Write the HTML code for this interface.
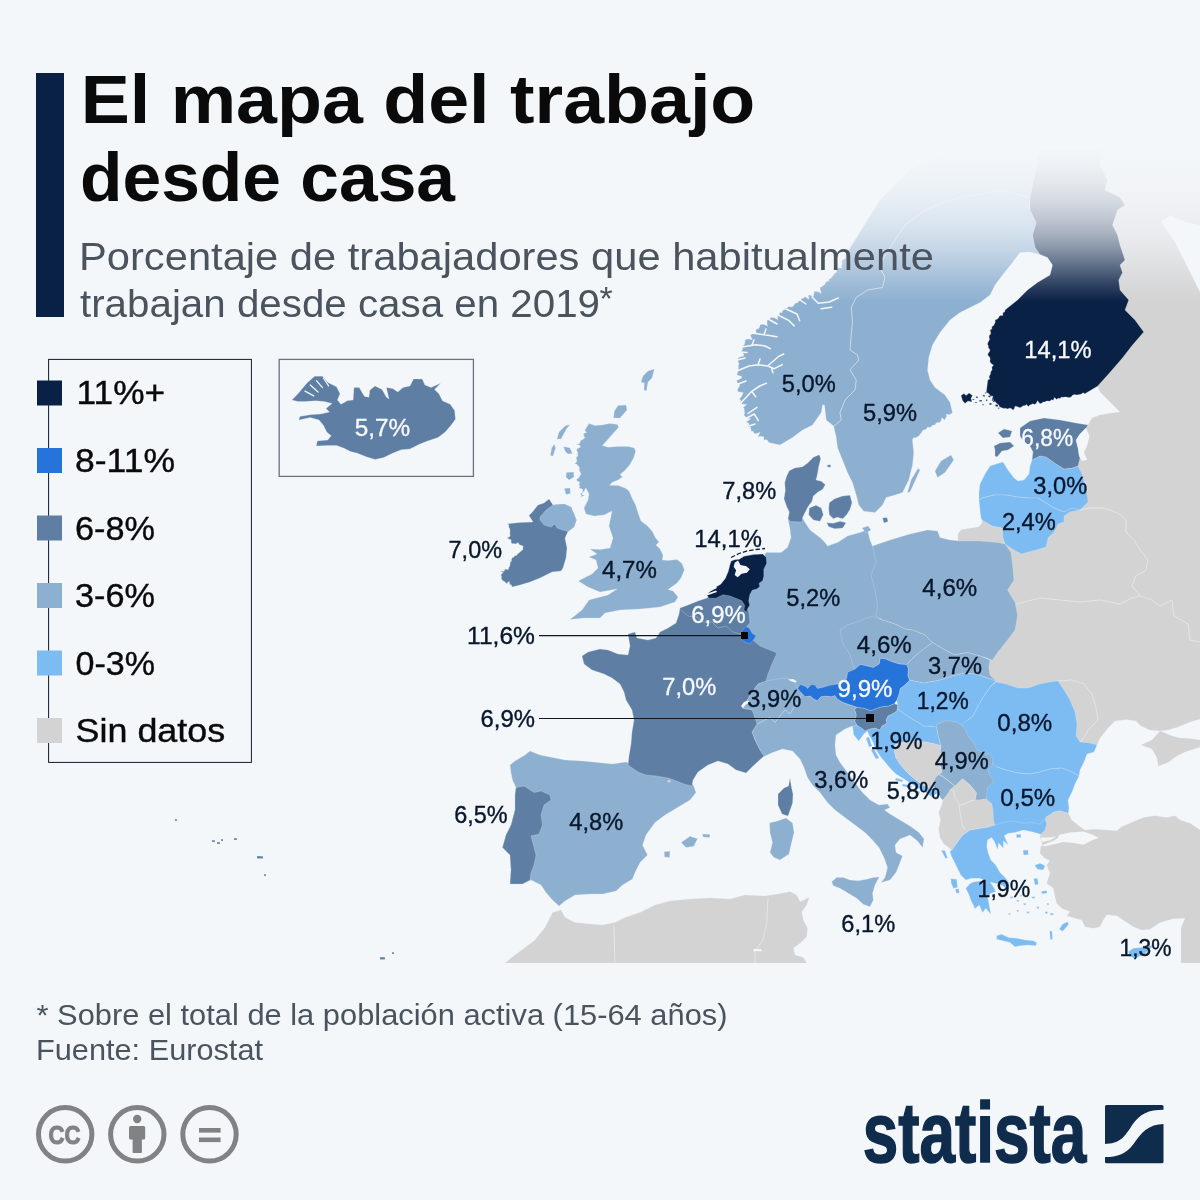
<!DOCTYPE html>
<html lang="es"><head><meta charset="utf-8"><title>El mapa del trabajo desde casa</title>
<style>
html,body{margin:0;padding:0;background:#f4f7fa}
svg{display:block}
text{font-family:"Liberation Sans",sans-serif}
.k{stroke:#dbe6f1;stroke-width:.6;stroke-linejoin:round;stroke-opacity:.45}
.bl{fill:none;stroke:#e9eff6;stroke-width:.8;stroke-opacity:.8}
.lab{font-size:23px;fill:#08172c;stroke:#08172c;stroke-width:.35}
.labw{font-size:23px;fill:#f7f9fc;stroke:#f7f9fc;stroke-width:.3}
.leg{font-size:33px;fill:#0a0a0a;stroke:#0a0a0a;stroke-width:.4}
</style></head><body>
<svg width="1200" height="1200" viewBox="0 0 1200 1200">
<defs>
<clipPath id="mc"><rect x="0" y="130" width="1200" height="833"/></clipPath>
<linearGradient id="fade" x1="0" y1="145" x2="0" y2="302" gradientUnits="userSpaceOnUse">
<stop offset="0.000" stop-color="#f4f7fa" stop-opacity="1"/>
<stop offset="0.140" stop-color="#f4f7fa" stop-opacity="0.97"/>
<stop offset="0.242" stop-color="#f4f7fa" stop-opacity="0.93"/>
<stop offset="0.350" stop-color="#f4f7fa" stop-opacity="0.87"/>
<stop offset="0.452" stop-color="#f4f7fa" stop-opacity="0.79"/>
<stop offset="0.561" stop-color="#f4f7fa" stop-opacity="0.68"/>
<stop offset="0.669" stop-color="#f4f7fa" stop-opacity="0.53"/>
<stop offset="0.777" stop-color="#f4f7fa" stop-opacity="0.35"/>
<stop offset="0.892" stop-color="#f4f7fa" stop-opacity="0.15"/>
<stop offset="1.000" stop-color="#f4f7fa" stop-opacity="0"/>
</linearGradient>
</defs>
<rect width="1200" height="1200" fill="#f4f7fa"/>
<g clip-path="url(#mc)">
<path class="k" fill="#d3d3d4" d="M1100,150L1200,150L1200,719L1190,722L1178,727L1168,730L1160,731L1150,730L1141,726L1136,721L1126,719.6L1115,721L1108,728L1100,738L1097,745L1075,746L1064,720L1055,695L1040,690L1000,690L985,670L995,645L1005,600L1000,560L1006,544L1030,545L1058,515L1078,500L1075,470L1070,445L1075,426L1088,425L1092,418L1100,415L1112,413L1120,412L1116,408L1108,400L1100,392L1097.5,386L1095,380L1110,350L1120,320L1110,290L1110,250L1100,200Z"/>
<path class="k" fill="#d3d3d4" d="M1160,731L1152,740L1141,745L1152,749L1157,758L1158.4,766L1168,762.4L1176,756.4L1185,752L1194,749L1200,747L1200,740L1190,738.4L1180,738L1172,736L1164,732.4Z"/>
<path class="k" fill="#d3d3d4" d="M961,529.75L970,528.25L979,526.75L982,523L982,520L992,526L1002,528L1003,538L1005,544L990,545L976,545L958,545L958,534Z"/>
<path class="k" fill="#d3d3d4" d="M1068.3,813.3L1071.7,820L1080,826.7L1085,830L1093.3,829.2L1106.7,830L1116.7,830.8L1121.7,826.7L1133.3,821.7L1143.3,817.5L1155,815.8L1166.7,817.5L1175,815.8L1180,820L1190,823.3L1200,830L1200,963L1181,963L1181,953L1181,943L1181,928L1185,918.3L1173.3,918.7L1160,922.5L1150,929.2L1141.7,930L1133.3,926.7L1123.3,920L1116.7,915.8L1106.7,914.7L1103.3,920L1100,926.7L1093.3,928.3L1085,926.7L1081.7,920L1075,918.3L1066.7,915.8L1070,911.7L1061.7,908.3L1056.7,903.3L1055,896.7L1053.3,888.3L1046.7,883.3L1048.3,878.3L1050,873.3L1046.7,865L1050,860.8L1045,858.3L1040,853.3L1040.8,846.7L1042.5,845L1040,836.7L1041.7,830L1044.2,825L1045,818.3L1050,813.3L1060,810.8Z"/>
<path class="k" fill="#d3d3d4" d="M505,963L515,955L535,940L545,927.5L552.5,912.5L561,910L565,917.5L575,922.5L590,924L602.5,925L615,922.5L625,917.5L640,912.5L655,905L670,901L690,899L710,898L730,899L745,895L765,896L777.5,894L790,891.7L796.7,895L800,901.7L809,897.5L806.7,905L801.7,911.7L803.3,920L807.5,928.3L806.7,936.7L800,943.3L793.3,948.3L795,955L803.3,957.5L806.7,963Z"/>
<path class="k" fill="#7dbcf2" d="M852.5,726L857.6,725.8L861.7,728.2L865,731L870,729L875,728L880,730L882,726L887,723L886,720L888,716L892,714L897,711L897.8,704.8L898,709L906,715L914,720L924,726L934,726.4L936.25,725L938,735L941,746L935,744L925,742L915,741L905,742L894.5,745L894,750L896,758L900,764L905,770L910,775L916,780L923,785L930,789L933.75,788L937.5,793L932,797L925,792L918,788L910,783L904,779L896,774L890,768L885,762L880,756L875,748L873,742L869,735L867.5,731L863.75,734L858.75,741L853.75,735Z"/>
<path class="k" fill="#7dbcf2" d="M904.8,685L909.5,680.3L910,680L924,683L940,680L952,676L964,673L976,674L988,678L996,681L991,686L984,696L978,706L973,716L968,720L962,726L952,728L940,728L934,726.4L924,726L914,720L906,715L898,709L897.8,704.8L896.7,700.2L899,694.3L900.2,688.5Z"/>
<path class="k" fill="#7dbcf2" d="M996,682L1006,684L1018,688L1028,688L1040,684L1050,682L1058,681L1064,690L1070,700L1075,712L1077,724L1076,736L1080,742L1090,743L1097,745L1094,752L1087,754L1084,762L1080,770L1079,776L1072,772L1062,768L1050,769L1040,772L1030,774L1018,773L1006,770L997,767L988,762L978,752L970,742L964,732L961,725L968,720L973,716L978,706L984,696L991,686Z"/>
<path class="k" fill="#7dbcf2" d="M997,767L1006,770L1018,773L1030,774L1040,772L1050,769L1062,768L1072,772L1079,776L1075,784L1072,792L1068,800L1069,808L1068.3,813.3L1060,810.8L1054,812L1046,817L1044,826L1040,828L1030,829L1018,828L1006,829L990,829L988,812L984,800L984,765L990,760Z"/>
<path class="k" fill="#7dbcf2" d="M950,851.7L956.7,843.3L962.5,835L970,830L980,828.3L988.3,827L995,825L1003.3,822.5L1013.3,820.8L1023.3,823.3L1031.7,822.5L1040,824.2L1043.3,820L1045.3,819.7L1046.7,823.7L1045,830L1040.8,834.2L1031.7,831.7L1023.3,830L1015,832.5L1008.3,833.3L1004.2,835.8L1008.3,845L1003.3,840.8L1003.3,848.3L998.7,843L997.5,849.2L994.7,842L991.7,837.5L987.5,840L986.7,846.7L988.3,853.3L990.8,860L995,864.2L996.7,866.7L1000,872.5L1005.8,878.3L1009.2,883.3L1008.7,889.2L1003.3,886.3L1000,884.2L995,883.3L990,882L993.3,886.7L995.8,891.7L990.8,893.3L987.5,896.7L989.2,905L990.8,914.2L985.8,908.3L982.5,912.5L979.2,905L975,908.7L970.8,900L968.3,893.3L965.8,888.3L970,883.7L973.3,882L980,881L985.8,881L980,878.3L971.7,878.3L965.8,880L960.8,875L958.3,870L955,863.3L951.7,856.7Z"/>
<path class="k" fill="#7dbcf2" d="M996.7,935.8L1001.7,934.2L1008.3,937.5L1016.7,938.3L1025,940L1033.3,940.8L1036.7,942.5L1035.8,945.8L1028.3,945L1020,945.8L1015,946.7L1010,942.5L1003.3,940.8L996.7,939.2Z"/>
<path class="k" fill="#7dbcf2" d="M1067.5,921.7L1068.7,924.2L1062.8,931.2L1059.2,929.2L1062.5,924.2Z"/>
<path class="k" fill="#7dbcf2" d="M1034.7,865.3L1040,863.3L1045,865.8L1043.3,870L1037.5,869.2Z"/>
<path class="k" fill="#7dbcf2" d="M1033.7,878.7L1037.5,878.3L1038.3,884.2L1035,885Z"/>
<path class="k" fill="#7dbcf2" d="M1041.3,891.3L1046.7,890.8L1047,893.3L1042,893.7Z"/>
<path class="k" fill="#7dbcf2" d="M941.3,850L945,850.8L947.5,858L945.3,858.3L943.3,854.2Z"/>
<path class="k" fill="#7dbcf2" d="M950.8,878.7L956.7,879.2L957.5,887.5L953.3,888.3L951.3,883.3Z"/>
<path class="k" fill="#7dbcf2" d="M955.3,889.2L958.7,888.7L959.3,893.3L956.3,893Z"/>
<path class="k" fill="#7dbcf2" d="M1023,850.3L1028,850L1028.3,854.7L1023.7,855Z"/>
<path class="k" fill="#7dbcf2" d="M1016.3,834.5L1020.8,834.2L1020.8,837.5L1016.7,837.8Z"/>
<path class="k" fill="#7dbcf2" d="M1049.7,930.8L1052,931.3L1052.5,939.7L1050.3,939.2Z"/>
<path class="k" fill="#7dbcf2" d="M1010,896.7L1013,896.8L1012.7,898.3L1010.3,898.2Z"/>
<path class="k" fill="#7dbcf2" d="M1016.7,900L1019,900.2L1018.7,901.7L1017,901.5Z"/>
<path class="k" fill="#7dbcf2" d="M1023.3,903.3L1026,903.5L1025.7,905L1023.7,904.8Z"/>
<path class="k" fill="#7dbcf2" d="M1031.7,896.7L1035,896.8L1034.7,898.3L1032,898.2Z"/>
<path class="k" fill="#7dbcf2" d="M1036.7,906.7L1039,906.8L1038.7,908.7L1037,908.5Z"/>
<path class="k" fill="#7dbcf2" d="M1026.7,911.7L1029.3,911.8L1029,913.3L1027,913.2Z"/>
<path class="k" fill="#7dbcf2" d="M1016.7,910L1018.7,910.2L1018.3,911.7L1017,911.5Z"/>
<path class="k" fill="#7dbcf2" d="M1045,911.7L1047.7,911.8L1047.3,913.7L1045.3,913.5Z"/>
<path class="k" fill="#7dbcf2" d="M1050,913.3L1053.7,913.5L1053.3,915L1050.3,914.8Z"/>
<path class="k" fill="#7dbcf2" d="M1008.3,913.3L1010.7,913.5L1010.3,914.7L1008.7,914.5Z"/>
<path class="k" fill="#7dbcf2" d="M1046.7,903.3L1049,903.5L1048.7,905L1047,904.8Z"/>
<path class="k" fill="#7dbcf2" d="M1020,895L1022,895.2L1021.7,896.3L1020.3,896.2Z"/>
<path class="k" fill="#7dbcf2" d="M1128.3,951.7L1133.3,948.3L1141.7,947.5L1146.7,946.7L1155,944.2L1148.3,950L1145,954.2L1138.3,956.7L1135,959.2L1130,955.8Z"/>
<path class="k" fill="#7dbcf2" d="M979,492L980,484L985,474L990,466L996,464L1003,462L1008,470L1014,478L1018,481L1024,480L1029,474L1030,466L1032,460L1040,456L1046,457L1056,464L1064,469L1072,468L1078,466L1082,474L1085,484L1087,494L1088,502L1080,510L1072,508L1064,512L1054,508L1046,503L1038,498L1028,498L1018,497L1006,495L994,495L982,498L979,500Z"/>
<path class="k" fill="#7dbcf2" d="M979,500L980,510L981,518L982,520L992,526L1002,528L1003,538L1005,544L1014,550L1022,554L1028,552L1036,550L1046,547L1048,538L1054,532L1058,524L1064,522L1064,516L1070,512L1080,510L1072,508L1064,512L1054,508L1046,503L1038,498L1028,498L1018,497L1006,495L994,495L982,498Z"/>
<path class="k" fill="#7dbcf2" d="M866,738L869,737L872,746L869,747Z"/>
<path class="k" fill="#7dbcf2" d="M871,750L874,749L879,758L876,759Z"/>
<path class="k" fill="#7dbcf2" d="M896,778L903,780L902,782L895,780Z"/>
<path class="k" fill="#7dbcf2" d="M903,784L912,786L911,788L902,786Z"/>
<path class="k" fill="#7dbcf2" d="M912,789L920,792L919,794L911,791Z"/>
<path class="k" fill="#8eb0d0" d="M589,423.6L595,425.6L602,425L610,423.6L617.6,424.4L618.4,427.6L614.4,432L610,437L605.6,442L602.4,445.6L608,447.2L618,446.4L628,446.4L634.4,448L635.6,451.6L633.6,458L629.6,465L624.4,471L620,474.4L622.4,477L618,480L612,482.4L609.6,485.2L618,485.6L625,488L629,491L632,498L635.6,505L638.4,514L641,521L647.6,526L652.4,531.6L655.6,538L659,542L656,545L660,549L663,555L662.4,560L668,560.6L677,559.6L682,563.6L684.4,570L681,578L677,583L668,589.6L673,591L678,597L675,602L660,607L640,609L620,610L605,613L600,618L584,618L570,619.4L582,610L589,600L608,595L617,589L600,592L588,587L578.4,581L584,578L592,574L598,568L596,560L589,557L597,554L590,549L600,549.6L610,548L613,538L609,526L612,511L604,515L594,516L586,514L584,508L588,500L589,494L586,488L584.8,489.5L584.2,491.3L582.7,492.6L580.4,493.5L581.7,496.3L579.8,497.4L584.6,495.5L581.7,494.4L582.3,492.5L582.8,490.7L582.5,489L579.1,488L579.8,485.9L579,484.3L579.9,482.2L577.6,481.2L576.4,479.9L577.4,478.7L579.1,477.6L579.6,475.8L581.1,474.5L580.2,472.1L579.2,470.5L579.5,468.2L579,466.5L577.5,465.6L576.7,464.1L574.4,463.7L575.8,462.7L576.9,461.2L576.6,459.3L576.1,457.4L578,456.1L577.6,454.2L577.8,452.2L576.7,450.7L576.9,449L580.7,446.9L579.6,445.3L576.1,444L578.1,444L579.7,443.5L580.2,441.5L581.2,440.2L583.7,439L584.9,437.5L583.6,435.3L583.6,433.5L586.7,432.6L584.7,430.2Z"/>
<path class="k" fill="#8eb0d0" d="M570,424.4L566.4,429L561,439L557,439L559,432L565,426Z"/>
<path class="k" fill="#8eb0d0" d="M554.4,444L555.6,448L553,456L550.4,455.6L551.6,448Z"/>
<path class="k" fill="#8eb0d0" d="M563.6,446.4L570,448L572.4,453.6L568,454L565,451Z"/>
<path class="k" fill="#8eb0d0" d="M566.4,472.4L573.6,472L574,477L569,480L566,477Z"/>
<path class="k" fill="#8eb0d0" d="M564.4,488.4L570,488L570.4,493.6L566,494.4Z"/>
<path class="k" fill="#8eb0d0" d="M618,405.6L626,405L627,410L620,418L613.6,418L614.4,411Z"/>
<path class="k" fill="#8eb0d0" d="M648,371L654.4,369L652,378L648,382L646.4,391L644,390L644.4,383L641,382L643,376Z"/>
<path class="k" fill="#8eb0d0" d="M766,552.5L781,552.5L787.5,547.5L791,537.5L790,529L788,519L803,519L806,524L810,530L820,537.5L825,542.5L827.5,546L837.5,542.5L847.5,536L860,532.5L867.5,530L870,540L872.5,546L880,560L882,600L880,618L870,630L850,640L860,668L850,690L800,692L790,690L765,685L760,670L770,655L755,645L745,630L744,613L745,604L747,596L752,588L757,584L760,575L761,562Z"/>
<path class="k" fill="#8eb0d0" d="M862,528L868,526L871,530L866,533Z"/>
<path class="k" fill="#8eb0d0" d="M766,681L777,679L787,678L795,681L797.5,688.5L802.2,693.75L799,700L794,707.5L790,714L785,710L780,716L775,722.5L770,717.5L765,720L760,722.5L756,725L752,716L752,710L742,708L746,702L752,692L758,684Z"/>
<path class="k" fill="#8eb0d0" d="M764,756.5L772.5,752.5L782.5,749L792.5,751L800,759L804,767.5L807.5,777.5L812.5,785L820,792.5L827.5,802.5L835,810L845,817.5L855,825L865,832.5L872.5,840L879,847.5L884,857.5L887.5,867.5L885,877.5L881,882.5L890,880L896,872.5L900,862.5L902.5,856L896,852.5L895,845L900,839L910,835L917.5,841L922.5,847.5L924,839L919,832.5L910,826L900,820L890,814L884.5,810L890,807.5L887.5,804L879,805L870,800L862.5,792.5L855,782.5L847.5,772.5L840,762.5L836,755L835,745L836,735L845,729L852.5,726L857.6,725.8L854.7,721.2L856.4,715.3L854.7,709.5L857,707.2L850,704.8L843,702.5L837.2,699L834.8,695.5L831.3,696.7L826.7,696.1L820.8,696.7L817.3,700.8L813.8,699L810.3,696.1L805.1,696.7L802.2,693.75L799,700L794,707.5L790,714L785,710L780,716L775,722.5L770,717.5L765,720L760,722.5L756,725L752,732L755,740L760,750Z"/>
<path class="k" fill="#8eb0d0" d="M831.7,881.7L836.7,877.5L843.3,877.5L850,880L858.3,880.8L866.7,879.2L873.3,877.5L879.2,877L875,885L872.5,893.3L873.3,900L870,906.7L863.3,904.2L856.7,898.3L848.3,893.3L840,888.3L833.3,885.8Z"/>
<path class="k" fill="#8eb0d0" d="M786,818L792.5,823L794,832.5L791,845L789,854L780,860L774,857.5L770,852.5L772.5,842.5L770,832.5L769.5,823L777.5,821Z"/>
<path class="k" fill="#8eb0d0" d="M510,765L515,761L525,755L530,751L540,755L552.5,757.5L565,760L582.5,761L597.5,762.5L612.5,764L626,762L634,766L646,771L658,773L670,775.5L680,779L690,782L693.5,785.5L696,792.5L690,800L680,806L665,815L655,822.5L646,835L642.5,845L647.5,855L640,862.5L635,872.5L632.5,879L622.5,885L616,891L602.5,894L590,894L575,895L565,901L559,906L552.5,900L546,892.5L541,885L531,880L522.5,884L510,884L511,870L510,855L502.5,847.5L506,835L511,825L515,810L515,795L516,787.5L512.5,780L511,772.5Z"/>
<path class="k" fill="#8eb0d0" d="M681.2,842.5L690,836.2L697.5,838.8L693.8,846.2L686.2,847.5Z"/>
<path class="k" fill="#8eb0d0" d="M702.5,834L710,834.5L709.5,837.5L703,837Z"/>
<path class="k" fill="#8eb0d0" d="M664.2,851.8L670,851.2L669.5,857.5L664.5,857Z"/>
<path class="k" fill="#8eb0d0" d="M768.75,442.5L767.7,440.5L766.2,439.6L764,440.2L763.7,436.5L761.8,436.6L760,436.2L757.7,437L760.2,432.3L756.4,433.6L753.9,433.6L753.6,431.4L751.3,431.2L750.9,429.1L750.4,427.1L748,427L749,425.1L748.8,423.2L746.1,422.1L751,418.7L746.4,418.1L745.5,416.4L744,414.9L744.7,412.8L744.4,410.9L744.3,409L743.3,407.4L746.7,404.4L742,403.9L740.2,402.5L741.1,400.4L739.4,398.9L741.5,396.6L742.5,394.6L743.3,392.5L738,391.8L737.5,390L738.2,388.1L739.7,386L739.6,384.2L737.1,382.5L736.8,380.6L741.2,378.4L741.9,376.4L737,374.9L737.4,373.2L737.9,371.4L738.3,369.5L738.5,367.6L738.3,365.7L739.1,363.9L738.1,361.9L737.9,360L738.1,358.2L740,356.9L743.7,356L743.7,354.1L741.1,351.3L742.6,349.8L742.7,347.9L742.8,345.9L744.5,344.4L744.9,342.3L745.3,340.1L746.8,339.3L748.9,338.9L752.4,339.9L750.4,335.4L751.7,334.2L753.6,333.6L756.4,333.9L755.8,330.8L756.6,329.1L758.7,328.7L759.6,327.1L760.1,325.1L761.7,324.3L764.2,324.6L767.5,326.1L767,322.4L767.3,319.9L769.8,320.2L770.2,317.7L772.1,317.5L774.4,317.7L777.7,319.7L777.6,316L779.1,314.9L779.7,312.4L782.1,312.8L782.7,310.3L784.5,309.8L785.7,308.3L787.6,307.8L788.8,306.4L791.2,306.9L793.1,306.4L794.2,304.7L795.5,303.3L797.6,302.8L798.7,301.2L800.6,300.5L801.6,298.7L803.5,298L804.9,296.7L809,299.2L808.5,295.2L810,294.9L813.1,297.1L813.8,294.5L814.2,291.6L816.2,291.6L818.2,291.8L821.1,293.6L820,287.6L821.8,286.8L823.1,285.6L824.8,284.8L825.4,282.9L826.5,281.5L828.8,281.3L828.9,278.9L831,278.5L831.9,276.7L833.4,275.6L834,273.8L835.7,272.9L836.8,271.4L836.9,269.3L837.9,267.8L841.9,268L841.5,265.6L842.3,264L841.8,261.6L842.5,259.9L844.6,259L845.8,257.6L845.5,255.3L855,240L880,200L910,170L950,150L1040,150L1030,197.5L1030,210L1036.25,222.5L1032.5,235L1035,247.5L1040,254.5L1030,252L1020,252.5L1012.5,262.5L1002.5,275L995,285L990,295L980,302.5L970,307.5L960,312.5L950,320L940,332.5L932.5,345L928.75,357.5L927.5,370L930,380L935,387.5L945,395L950,402.5L952.5,412.5L951.1,413.6L949.8,414.8L946.4,413.9L946.6,416.6L945.6,418.1L944.9,419.9L941.8,417.8L941.1,420.5L939.9,422.2L937.9,422.4L936.1,422.9L935,425L932.9,424.9L931.5,426.4L929.9,427.4L927.7,427.1L926.5,428.7L924.9,429.8L922.8,430.3L922,432L920.8,433.3L919.7,434.7L918.7,436.2L917,437L915.5,437.7L913.5,437.7L912.4,439.8L913.75,452.5L912.5,465L908.75,480L902.5,492.5L895,495L886.25,497.5L882.5,505L875,512.5L863.75,511.25L858.75,505L856.25,495L852.5,482.5L847.5,472.5L842.5,460L837.5,447.5L836.25,437.5L833.75,426.25L832.5,425L826.25,420L824.5,405L822.5,405L821.25,412.5L812.5,425L802.5,430L792.5,437.5L780,445Z"/>
<path class="k" fill="#8eb0d0" d="M918,468.5L920,470L910,492L907.5,492.5L911,480Z"/>
<path class="k" fill="#8eb0d0" d="M951,455L953.75,460L945,472.5L937.5,477.5L935,471L941,461Z"/>
<path class="k" fill="#8eb0d0" d="M872.5,546L890,540L910,534L927.5,530L937.5,531L940,537.5L950,540L960,541L980,541L997.5,542.5L1005,544L1011,552.5L1012.5,565L1014,580L1007.5,590L1015,602.5L1017.5,615L1015,630L1007.5,640L997.5,652.5L992.5,660L980,656L967.5,652.5L955,655L945,650L932.5,642.5L925,635L912.5,630L905,629L895,624L882.5,620L876,616L877.5,605L875,590L871,575L876,562.5L874,552.5Z"/>
<path class="k" fill="#8eb0d0" d="M840,630L847.5,625L860,621L872.5,616L882.5,620L895,624L905,629L912.5,630L925,635L932.5,642.5L922.5,650L915,656L906.6,664.6L899,664L892,661.7L885,658.8L880.3,658.2L879.2,664L873.3,667.5L866.3,665.8L860.5,664.6L854.7,669.3L850,655L842.5,642.5Z"/>
<path class="k" fill="#8eb0d0" d="M909.5,680.3L907.8,675.7L908.3,668.7L906.6,664.6L915,656L922.5,650L932.5,642.5L945,650L955,655L967.5,652.5L980,656L990,660L988.75,667.5L990,675L996,681L988,678L976,674L964,673L952,676L940,680L924,683L910,680Z"/>
<path class="k" fill="#8eb0d0" d="M936.25,725L941.25,722.5L946.25,720.6L956.25,722L961.25,725L965,729.4L968.5,736.9L973.75,742.5L976.5,749.4L982.5,752.5L990,754.4L993,758.75L992.5,765L988,770L989.4,775L993.75,780L991.9,783.75L987.5,787.5L986.9,793.75L986.25,799L980,800L975,800L976.5,793L970.6,785.6L962.5,778.75L958.75,782.5L955,786.25L950.6,789.4L948,793.75L945.6,796.9L943,800L941.25,798.75L937.5,793L933.75,788L932.75,783.5L935.6,776.9L938.75,774.4L942,772L940,765L943,758L940,752L941,746L938,735Z"/>
<path class="k" fill="#d3d3d4" d="M894.5,745L905,742L915,741L925,742L935,744L941,746L940,752L943,758L940,765L942,772L938.75,774.4L935.6,776.9L932.75,783.5L933.75,788L930,789L923,785L916,780L910,775L905,770L900,764L896,758L894,750Z"/>
<path class="k" fill="#d3d3d4" d="M943,800L945.6,796.9L948,793.75L950.6,789.4L955,786.25L958.75,782.5L962.5,778.75L970.6,785.6L976.5,793L975,800L980,800L986.25,799L991.9,803.75L993,810L993.5,820L995,825L988.3,827L980,828.3L970,830L962.5,835L956.7,843.3L952,850.5L950,848.75L943.75,843.75L940,837.5L938.75,828.75L940.6,820L938.75,812.5L941.25,806.25Z"/>
<path class="k" fill="#5e7fa3" d="M549,499L553,505L564,504L571,507L574,514L576.4,520L574,527L568,531.6L565,538L567,548L566,558L563,568L561,571L552,572L540,578L530,582L520,585L512,587L511.3,584.7L509.6,584.4L509.3,581.2L506.2,583.7L505.2,582.1L503.6,581.1L502,580L501.4,578.4L501.5,576.5L500.8,575L503.3,572.2L499.7,571.7L500.8,571.8L502.4,571.3L504.2,571.2L505,569.1L508.3,569.8L508.7,567.7L509.7,566.2L510.1,564.1L510.4,561.3L508.4,559.8L511.2,561.9L511.5,559.5L512.2,557.6L513.9,557.2L514.7,555.7L516.5,555.4L517.6,554.1L518.7,552.9L520.1,552.1L521.4,550.8L522.9,549.7L522.9,547.8L523.3,546.2L521.2,545.3L519.4,544.8L518,542.5L515.8,543.9L514,543.6L512,543.8L511.1,542.2L511.1,539.7L508.7,539.1L507.2,537.8L509.3,537L510.2,535.5L509.8,533.6L510,531.8L510,530L509.6,528.3L508.6,527L509,524.9L507.3,523.9L510.2,523.5L520,522.4L533,522L529,515.6L532.4,512L538,505L544,503Z"/>
<path class="k" fill="#5e7fa3" d="M680,608L688,605L698,601L707,598L712,594L720,592L730,592L738,595L744,598L747,604L749,613L750,623L747,626L753,640L760,646L777,653L772,664L768,674L766,681L758,684L752,692L746,702L742,708L752,710L755,718L757,724L752,732L755,740L760,750L764,756L752,767L746,773L736,770L728,764L718,761L708,765L698,772L693,780L692,786L684,784L674,780L668,778L656,776L646,775L638,772L628,765L629,756L631,744L632,732L634,720L632,710L626,700L624,692L620,684L612,678L604,674L592,670L584,664L582,656L588,652L600,649L608,650L618,654L628,655L630,646L628,634L635,632L637,638L648,640L656,638L660,632L668,628L676,623L679,614Z"/>
<path class="k" fill="#5e7fa3" d="M790,778L791.6,788L793,794L792.6,803L788,816L782,814L778,805L778,794L784,788L788.6,786Z"/>
<path class="k" fill="#5e7fa3" d="M516,787.5L524,786L534,792.5L541,791L550,795L551,800L544,805L541,815L542.5,825L539,834L531,836L534,847.5L536,855L534,865L531,872.5L530,880L522.5,884L510,884L511,870L510,855L502.5,847.5L506,835L511,825L515,810L515,795Z"/>
<path class="k" fill="#5e7fa3" d="M819.3,454.7L820.7,458.7L818.7,466.7L817.3,474.7L816,480L821.3,481.3L825.3,484.7L822.7,489.3L818,492L813.3,496L812,501.3L808,506.7L805.3,512L802.7,517.3L802,522L790.7,521.6L788,518.7L789.3,512L786.7,506.7L784,498.7L785.3,490.7L784.7,482.7L786.7,476L789.3,470.7L794.7,468L802.7,466.7L808,462.7L813.3,457.3Z"/>
<path class="k" fill="#5e7fa3" d="M809.3,508L816,505.3L821.3,508L823.3,514.7L820,521.3L813.3,520L808.7,514.7Z"/>
<path class="k" fill="#5e7fa3" d="M829.3,502.7L834.7,498.7L842.7,496L850,495.3L852,502.7L850,509.3L846.7,514.7L842.7,518.7L837.3,517.3L833.3,518.7L829.3,514.7L828.7,508Z"/>
<path class="k" fill="#5e7fa3" d="M826.7,522.7L833.3,523.3L840,521.3L846,522.7L842.7,528L834.7,528.7L828.7,526.7Z"/>
<path class="k" fill="#5e7fa3" d="M882.5,518L887,517.5L888,521.5L884,523Z"/>
<path class="k" fill="#5e7fa3" d="M827.3,465L830.7,464.7L830.5,467.3L827.5,467Z"/>
<path class="k" fill="#5e7fa3" d="M1020,428L1030,421L1044,418L1060,420L1076,423L1088,425L1086,428L1080,434L1076,440L1078,448L1080,458L1078,466L1072,468L1064,469L1056,464L1046,457L1040,456L1032,460L1033,452L1030,446L1024,442L1020,436Z"/>
<path class="k" fill="#5e7fa3" d="M998,433L1004,429L1012,431L1010,437L1003,438Z"/>
<path class="k" fill="#5e7fa3" d="M994,446L1000,443L1010,442L1014,446L1008,450L1002,451L997,457L995,456L995,450Z"/>
<path class="k" fill="#5e7fa3" d="M854.7,709.5L857,707.2L864,708.3L871,710.7L876.8,708.3L882.7,706.6L888.5,706L894.3,703.7L897.8,704.8L897,711L892,714L888,716L886,720L887,723L882,726L880,730L875,728L870,729L865,731L861.7,728.2L857.6,725.8L854.7,721.2L856.4,715.3Z"/>
<path class="k" fill="#5e7fa3" d="M291.9,399.9L298,393.8L303.2,387.6L306.8,383.2L314.6,376.2L322.5,376.2L327.8,382.4L336.5,386.8L340,393.8L337.4,399.9L340.9,404.2L344.4,402.5L347,400.8L353.1,399.9L354,387.6L359.2,387.6L364.5,396.4L368.9,397.2L369.8,390.2L375,385.9L382,389.4L386.4,397.2L389,399L386.4,387.6L392.5,388.5L397.8,392L403,387.6L410,385.9L413.5,378.9L422.2,378.9L424.9,385L431,387.6L440.6,383.2L434.5,389.4L438.9,393.8L442.4,400.8L450.2,404.2L454.6,410.4L455.5,419.1L451.1,425.2L445,432.2L438,437.5L427.5,441L418.8,444.5L410,448.9L401.2,449.8L392.5,453.2L383.8,457.6L375,459.4L366.2,456.8L357.5,453.2L350.5,451.5L343.5,448L336.5,445.4L327.8,445.4L316.4,445.9L317.2,441L327.8,440.1L331.2,435.8L326.9,432.2L323.4,425.2L319,420L310.2,417.4L298.9,420L299.8,416.5L310.2,414.8L320.8,413.9L329.5,412.1L326,408.6L332.1,403.4L324.2,401.6L315.5,400.8L305,401.6L298,401.6Z"/>
<path class="k" fill="#5e7fa3" d="M175,819L177,819.3L177,821L175,821Z"/>
<path class="k" fill="#5e7fa3" d="M212,840L215,840.3L215,842L212,842Z"/>
<path class="k" fill="#5e7fa3" d="M217,842L220,842.3L220,844L217,844Z"/>
<path class="k" fill="#5e7fa3" d="M221,839L223,839.3L223,841L221,841Z"/>
<path class="k" fill="#5e7fa3" d="M234,838L237,838.3L237,840L234,840Z"/>
<path class="k" fill="#5e7fa3" d="M257,856L263,856.3L263,858.5L257,858.5Z"/>
<path class="k" fill="#5e7fa3" d="M264,874L266,874.3L266,876L264,876Z"/>
<path class="k" fill="#5e7fa3" d="M380,957L385,957.3L385,959.5L380,959.5Z"/>
<path class="k" fill="#5e7fa3" d="M392,952L394,952.3L394,954L392,954Z"/>
<path class="k" fill="#8eb0d0" d="M540,517L546,510L553,505L564,504L571,507L574,514L576.4,520L574,527L568,531.6L563,530L557,528L555,524L551,527L544,525L540,520Z"/>
<path class="k" fill="#2673d9" d="M797.5,688.5L800.4,684.4L805.1,686.2L807.4,688.5L811.5,684.4L815,685L817.3,688.5L823.2,687.3L829,685.6L834.8,684.4L840.7,683.8L846.5,679.2L847.7,672.2L854.7,669.3L860.5,664.6L866.3,665.8L873.3,667.5L879.2,664L880.3,658.2L885,658.8L892,661.7L899,664L906.6,664.6L908.3,668.7L907.8,675.7L909.5,680.3L904.8,685L900.2,688.5L899,694.3L896.7,700.2L894.3,703.7L888.5,706L882.7,706.6L876.8,708.3L871,710.7L864,708.3L857,707.2L850,704.8L843,702.5L837.2,699L834.8,695.5L831.3,696.7L826.7,696.1L820.8,696.7L817.3,700.8L813.8,699L810.3,696.1L805.1,696.7L802.2,693.75Z"/>
<path class="k" fill="#2673d9" d="M746.3,626.3L749.8,628.7L752.2,633.3L756.25,635.7L753.3,640.3L749.8,643.8L746.3,642.7L741.7,640.3L740.5,633.3L742.8,629.8Z"/>
<path class="k" fill="#0a2146" d="M739.3,559.25L744,556.3L753.3,554.6L762.7,554L766.2,557.5L766.75,563.3L763.8,569.2L763.8,576.2L762.7,580.8L759.2,583.2L759.75,586.7L756.8,589L752.2,590.2L749.8,594.8L748.7,600.7L749.8,605.3L747.5,608.8L746.3,612.3L744,610L744.6,605.3L741.7,600.7L735.8,598.3L730,596L723,594.8L716,598.3L709,598.3L706.7,594.8L712.5,589L720.7,584.3L725.3,578.5L728.25,571.5L730,564.5L731.2,561L734.7,559.8Z"/>
<path class="k" fill="#0a2146" d="M986.25,392.5L988.3,393.2L989.5,394.5L990.3,395.9L993.1,396.2L992.1,398.8L993.6,399.8L992.8,402.3L995.2,401.4L996.1,403.1L997.5,404L998.8,405.1L999.6,407L1001.3,407.5L1002.8,408.3L1004.2,408.4L1006,408.2L1007.5,409L1009.3,408.3L1011,408.2L1012.5,409.8L1014,409.4L1015,406.3L1016.7,406.5L1018.6,407.2L1020.3,407.7L1021.8,406.7L1023.2,405.8L1024.9,405.8L1026.3,404.4L1028.4,406.6L1029.8,405.1L1031.3,404.5L1032.9,403.8L1034.8,404.4L1036.3,403.2L1037.5,400.7L1040,403.7L1041.6,403.2L1043.1,401.9L1044.9,401.9L1046.4,401.1L1048.2,401.1L1050,401.2L1051.4,399.7L1053.3,400.3L1054.5,397.4L1056.6,399.6L1058.1,398.2L1059.9,398.6L1061.3,397.2L1063.1,397.3L1064.8,397.1L1066.5,397L1068.3,397.6L1070,397.4L1071.5,396.6L1072.9,395L1074.6,394.6L1076.5,395.1L1078.1,394.7L1079.8,394.5L1081.5,394.1L1082.9,392.7L1084.9,393.7L1097.5,386.25L1109,373.5L1122,358.5L1132.5,345L1143.75,332L1135,320L1125,310L1128.75,300L1120,290L1118.75,280L1122.5,272.5L1120,265L1125,260L1120,245L1117.5,235L1112.5,225L1117.5,210L1125,205L1120,197.5L1105,190L1107.5,180L1100,165L1100,150L1040,150L1030,197.5L1030,210L1036.25,222.5L1032.5,235L1035,247.5L1040,254.5L1047.5,257.5L1052.5,265L1050,275L1037.5,282.5L1027.5,290L1017.5,300L1005,310L1004.6,312.1L1002.8,312.8L1002.9,315.4L1000.4,315.4L999,316.5L998.3,318.3L996.8,319.3L995.1,320.1L995.2,322.2L994.4,323.9L993.6,325.6L991.8,326.7L991.9,328.9L990,330L990.6,332L990.7,333.9L989.2,335.4L989.1,337.2L989.6,339.2L988.8,340.9L987.9,342.6L987.5,344.3L988.4,346.1L988.4,347.9L989.9,349.6L989.6,351.4L988.2,353.2L987.6,355L989,356.3L989.9,357.7L990.2,359.3L989.8,361.1L990.4,362.6L991.7,363.9L993.5,365.1L991.7,367.4L992.2,369.5L991.3,370.9L990.5,372.4L990.5,374.1L989.6,375.5L989,377.1L989.9,379L987.8,380.1Z"/>
<path class="k" fill="#0a2146" d="M961,395.5L964,393.5L966,395.5L969,393L972.5,395.5L971,398.5L972,402L968,401L965,403.5L962.5,400.5Z"/>
<path class="k" fill="#0a2146" d="M976,396.5L977.924,396.8L977.539,398.172L975.8,397.837Z"/>
<path class="k" fill="#0a2146" d="M979.5,400L982.179,400.3L981.643,401.559L979.3,401.247Z"/>
<path class="k" fill="#0a2146" d="M983,395L985.013,395.3L984.61,396.705L982.8,396.364Z"/>
<path class="k" fill="#0a2146" d="M986,399.5L987.495,399.8L987.196,401.114L985.8,400.791Z"/>
<path class="k" fill="#0a2146" d="M989.5,403L991.708,403.3L991.266,404.952L989.3,404.561Z"/>
<path class="k" fill="#0a2146" d="M982.5,404L983.851,404.3L983.58,405.364L982.3,405.091Z"/>
<path class="k" fill="#0a2146" d="M992,399L993.345,399.3L993.076,400.972L991.8,400.577Z"/>
<path class="k" fill="#0a2146" d="M975,402L977.31,402.3L976.848,403.05L974.8,402.84Z"/>
<path class="k" fill="#0a2146" d="M995.5,404.5L998.272,404.8L997.717,406.658L995.3,406.226Z"/>
<path class="k" fill="#0a2146" d="M988.5,395.5L990.746,395.8L990.297,397.239L988.3,396.891Z"/>
<path class="k" fill="#0a2146" d="M985,392.5L986.452,392.8L986.162,393.518L984.8,393.314Z"/>
<path class="k" fill="#0a2146" d="M972.5,399L974.545,399.3L974.136,400.071L972.3,399.857Z"/>
<path class="k" fill="#0a2146" d="M998,407.5L999.504,407.8L999.203,408.79L997.8,408.532Z"/>
<path fill="#f4f7fa" d="M1058.7,835L1070,832.5L1083.3,831.5L1093.3,835L1098.7,838L1093.3,839.7L1083.3,844.7L1073.3,843L1063.3,842L1055,844L1045,846.2L1042,845.3L1053.3,841L1058.3,837.7Z"/>
<path fill="#f4f7fa" d="M1040.8,837.5L1050,837.5L1056.7,836.3L1050,840.3L1041.7,842Z"/>
<path fill="#f4f7fa" d="M1086,428L1089.5,436L1087,446L1084,452L1087,460L1082,461L1079,456L1078,448L1076,440L1080,434Z"/>
<path fill="#f4f7fa" d="M734.7,562.8L738,560.5L740.5,565.1L746.3,566.25L749.8,569.2L746.9,572.7L741.7,573.8L737.6,577.3L734.7,575L736.1,570.3L733.7,566.8Z"/>
<path fill="#f4f7fa" d="M1161,222L1175,242L1190,272L1200,292L1200,225L1185,222L1170,215Z"/>
<path fill="#f4f7fa" d="M708,590.5L716,586.5L717,588L709,592Z"/>
<path fill="#f4f7fa" d="M706,594L716,590.5L717,592L707,595.5Z"/>
<path d="M731,557.5L739,553.5L747,551L756,549.5L765,548.5" fill="none" stroke="#0a2146" stroke-width="1.3" stroke-dasharray="4.5 2"/>
<g class="bl">
<path d="M833.75,426.25L841.25,420L840,412.5L845,400L855,390L856.25,380L850,370L858.75,360L857.5,355L850,350L851.25,335L852.5,322.5L851.25,307.5L856.25,297.5L867.5,290L882.5,287.5L885,277.5L880,267.5L885,255L895,240L905,225L925,210L950,200L975,195L1000,190L1030,197.5"/>
<path d="M1080,510L1090,508L1104,508L1118,513L1126,520L1126,532L1134,540L1140,550L1148,560L1146,570L1136,576L1132,586L1140,596L1152,600L1160,606L1172,600L1174,616L1188,624L1190,640L1200,642"/>
<path d="M1016,604L1040,598L1060,600L1080,602L1100,600L1120,604L1132,598L1140,596"/>
<path d="M1058,681L1072,680L1084,684L1092,694L1096,708L1098,720L1090,728L1082,740L1080,742"/>
<path d="M613.75,926L614.5,945L615,963"/>
<path d="M768,898L766.7,923L763,940L755,951L755,963"/>
<path d="M950.6,789.4L953.75,791.25L955,797.5L958.75,803.75L960,812.5L961.25,820L962.5,825L965,830"/>
<path d="M960,805L965,803.75L970,801.25L975,800"/>
<path stroke-opacity=".35" d="M681,610L688,616L697,617L703,622L712,622L718,628L726,626L733,632L741,634"/>
<path d="M938.75,774.4L942,776L946,779L950,782L955,786.25"/>
</g>
<g fill="none" stroke="#f4f7fa" stroke-width="1.5" stroke-linecap="round" stroke-linejoin="round">
<path d="M737,371L749,366L758.3,364.7L767.7,366L774.3,368.7L782.3,364.7M769,364.7L778.3,356.7L783.7,354M771.7,368.7L773,372.7M758,364.7L760,359"/>
<path d="M742,347L755.7,344.7L765,346L770.3,348.7M752,345L754,340"/>
<path d="M752,333L767.7,335.3L777,336.7M764,334.8L766,329"/>
<path d="M740,404L751.7,391.3L759.7,386L766.3,383.3M751.7,391.3L755.7,396.7"/>
<path d="M745,419L754.3,414L758.3,420.7M748,413.5L757,407.3M749,426L755,424"/>
<path d="M778,315L789,320.7L794.3,326M786,309L797,314L799.7,320.7M770,320L777,324"/>
<path d="M812,297L818.3,303.3L829,302L838.3,298M821,308.7L831.7,307.3M800,300L806,304"/>
<path d="M738,384L746,381M737.5,360L745,358M741,352L747,352.5"/>
</g>

<rect x="753.5" y="949" width="8" height="2.2" fill="#f4f7fa"/>

<path d="M316.4,380.6L322.5,387.6M310.25,385L318.1,392M323.4,378L328.6,385.9M305,391.1L313.75,395.85" fill="none" stroke="#f4f7fa" stroke-width="1.2" stroke-linecap="round"/>
<path d="M667.5,780.2L670.5,780L670.8,782.3L667.8,782.6Z" fill="#d3d3d4"/>
<path d="M741,706L744,702L748,700.5L749.3,702L746,704.5L743,708Z" fill="#f4f7fa"/>
<path d="M788,679.5L793,679L797,681.5L795,682.6L791,681.2Z" fill="#f4f7fa"/>

<rect x="480" y="130" width="720" height="173" fill="url(#fade)"/>
</g>
<!-- title block -->
<rect x="36" y="73" width="28" height="244" fill="#0a2146"/>
<text x="80.7" y="123" font-size="68" font-weight="bold" fill="#0a0a0a" textLength="674.6" lengthAdjust="spacingAndGlyphs">El mapa del trabajo</text>
<text x="80" y="201" font-size="68" font-weight="bold" fill="#0a0a0a" textLength="375" lengthAdjust="spacingAndGlyphs">desde casa</text>
<text x="79" y="269.5" font-size="38" fill="#4b545e" textLength="855" lengthAdjust="spacingAndGlyphs">Porcentaje de trabajadores que habitualmente</text>
<text x="80" y="317" font-size="38" fill="#4b545e" textLength="520" lengthAdjust="spacingAndGlyphs">trabajan desde casa en 2019</text>
<text x="599.5" y="309.5" font-size="34" fill="#4b545e">*</text>
<!-- legend -->
<rect x="48.6" y="359.4" width="202.8" height="403" fill="none" stroke="#101a30" stroke-width="1"/>
<g>
<rect x="37" y="380.5" width="25" height="25" fill="#0a2146"/><text class="leg" x="76.6" y="404.4" textLength="88.5" lengthAdjust="spacingAndGlyphs">11%+</text>
<rect x="37" y="448" width="25" height="25" fill="#2673d9"/><text class="leg" x="75" y="472.2" textLength="100" lengthAdjust="spacingAndGlyphs">8-11%</text>
<rect x="37" y="515.5" width="25" height="25" fill="#5e7fa3"/><text class="leg" x="75" y="539.6" textLength="80" lengthAdjust="spacingAndGlyphs">6-8%</text>
<rect x="37" y="583" width="25" height="25" fill="#8eb0d0"/><text class="leg" x="75" y="607" textLength="80" lengthAdjust="spacingAndGlyphs">3-6%</text>
<rect x="37" y="650.5" width="25" height="25" fill="#7dbcf2"/><text class="leg" x="75.6" y="674.6" textLength="79.5" lengthAdjust="spacingAndGlyphs">0-3%</text>
<rect x="37" y="718" width="25" height="25" fill="#d3d3d4"/><text class="leg" x="75.6" y="742" textLength="149.5" lengthAdjust="spacingAndGlyphs">Sin datos</text>
</g>
<!-- iceland inset box -->
<rect x="279.2" y="359.4" width="194.2" height="117" fill="none" stroke="#6a7180" stroke-width="1.3"/>
<path d="M539,635.6H742M539,718.5H867" stroke="#0d1622" stroke-width="1.2" fill="none"/>
<rect x="741" y="632" width="7" height="7" fill="#05070c"/><rect x="866" y="714" width="8" height="8" fill="#05070c"/>
<text class="lab" x="781.8" y="391.9" textLength="53.9" lengthAdjust="spacingAndGlyphs">5,0%</text>
<text class="lab" x="863.1" y="421.1" textLength="53.9" lengthAdjust="spacingAndGlyphs">5,9%</text>
<text class="lab" x="722.3" y="498.6" textLength="53.9" lengthAdjust="spacingAndGlyphs">7,8%</text>
<text class="lab" x="786.3" y="605.6" textLength="53.9" lengthAdjust="spacingAndGlyphs">5,2%</text>
<text class="lab" x="922.3" y="596.1" textLength="54.9" lengthAdjust="spacingAndGlyphs">4,6%</text>
<text class="lab" x="856.8" y="652.6" textLength="54.9" lengthAdjust="spacingAndGlyphs">4,6%</text>
<text class="lab" x="928.1" y="674.4" textLength="53.9" lengthAdjust="spacingAndGlyphs">3,7%</text>
<text class="labw" x="837.6" y="696.9" textLength="54.9" lengthAdjust="spacingAndGlyphs">9,9%</text>
<text class="lab" x="916.8" y="708.6" textLength="51.9" lengthAdjust="spacingAndGlyphs">1,2%</text>
<text class="lab" x="747.3" y="706.9" textLength="53.9" lengthAdjust="spacingAndGlyphs">3,9%</text>
<text class="lab" x="870.6" y="748.6" textLength="51.9" lengthAdjust="spacingAndGlyphs">1,9%</text>
<text class="lab" x="934.8" y="769.4" textLength="53.9" lengthAdjust="spacingAndGlyphs">4,9%</text>
<text class="labw" x="691.3" y="623" textLength="54.4" lengthAdjust="spacingAndGlyphs">6,9%</text>
<text class="labw" x="662.3" y="695" textLength="53.9" lengthAdjust="spacingAndGlyphs">7,0%</text>
<text class="lab" x="694.3" y="547.3" textLength="67.6" lengthAdjust="spacingAndGlyphs">14,1%</text>
<text class="lab" x="448.6" y="557.9" textLength="53.4" lengthAdjust="spacingAndGlyphs">7,0%</text>
<text class="lab" x="602" y="577.9" textLength="54.9" lengthAdjust="spacingAndGlyphs">4,7%</text>
<text class="lab" x="467.1" y="644.1" textLength="67.9" lengthAdjust="spacingAndGlyphs">11,6%</text>
<text class="lab" x="480.6" y="727.4" textLength="54.4" lengthAdjust="spacingAndGlyphs">6,9%</text>
<text class="lab" x="454.3" y="822.6" textLength="53.4" lengthAdjust="spacingAndGlyphs">6,5%</text>
<text class="lab" x="569.3" y="829.6" textLength="53.9" lengthAdjust="spacingAndGlyphs">4,8%</text>
<text class="lab" x="814.3" y="788.1" textLength="53.9" lengthAdjust="spacingAndGlyphs">3,6%</text>
<text class="lab" x="886.8" y="799.4" textLength="53.4" lengthAdjust="spacingAndGlyphs">5,8%</text>
<text class="lab" x="841.3" y="931.9" textLength="53.9" lengthAdjust="spacingAndGlyphs">6,1%</text>
<text class="lab" x="977.6" y="897.3" textLength="52.6" lengthAdjust="spacingAndGlyphs">1,9%</text>
<text class="lab" x="1000.3" y="805.6" textLength="54.9" lengthAdjust="spacingAndGlyphs">0,5%</text>
<text class="lab" x="997.3" y="730.6" textLength="54.9" lengthAdjust="spacingAndGlyphs">0,8%</text>
<text class="lab" x="1119.6" y="956.4" textLength="51.9" lengthAdjust="spacingAndGlyphs">1,3%</text>
<text class="labw" x="1024.3" y="358.1" textLength="67.2" lengthAdjust="spacingAndGlyphs">14,1%</text>
<text class="labw" x="1021.3" y="445.6" textLength="51.9" lengthAdjust="spacingAndGlyphs">6,8%</text>
<text class="lab" x="1033.3" y="493.6" textLength="53.9" lengthAdjust="spacingAndGlyphs">3,0%</text>
<text class="lab" x="1001.9" y="530.2" textLength="53.9" lengthAdjust="spacingAndGlyphs">2,4%</text>
<text class="labw" x="354.7" y="435.5" textLength="55.5" lengthAdjust="spacingAndGlyphs">5,7%</text>
<!-- footer -->
<text x="36.5" y="1024.6" font-size="29" fill="#4b545e" textLength="691" lengthAdjust="spacingAndGlyphs">* Sobre el total de la población activa (15-64 años)</text>
<text x="36" y="1060" font-size="29" fill="#4b545e" textLength="227" lengthAdjust="spacingAndGlyphs">Fuente: Eurostat</text>
<g fill="none" stroke="#808283" stroke-width="5"><circle cx="65.2" cy="1134.3" r="26.7"/><circle cx="137.3" cy="1134.3" r="26.7"/><circle cx="209.5" cy="1134.3" r="26.7"/></g>
<text x="48.5" y="1143.6" font-size="25" font-weight="bold" fill="#808283" stroke="#808283" stroke-width="1.1" textLength="32" lengthAdjust="spacingAndGlyphs">CC</text>
<g fill="#808283"><circle cx="137.2" cy="1119" r="4.2"/><rect x="129" y="1126" width="16.2" height="13.5" rx="1.5"/><rect x="132.6" y="1136" width="9.3" height="17" rx=".8"/>
<rect x="199" y="1128" width="21.6" height="4.6"/><rect x="199" y="1137.5" width="21.6" height="4.6"/></g>

<text x="862.8" y="1161.6" font-size="86" font-weight="bold" fill="#0f2c4c" stroke="#0f2c4c" stroke-width="1.6" textLength="223.4" lengthAdjust="spacingAndGlyphs">statista</text>
<rect x="1105" y="1105" width="58.5" height="58.2" rx="1.5" fill="#0f2c4c"/>
<path fill="#f4f7fa" d="M1104.5,1143.9C1120,1143.9 1124.5,1137 1132,1125.3C1140,1113.5 1148,1109.7 1164,1109.7V1124.1C1148.5,1124.1 1141,1133 1133.5,1144C1126,1154 1118,1157.1 1104.5,1157.1Z"/>

</svg>
</body></html>
